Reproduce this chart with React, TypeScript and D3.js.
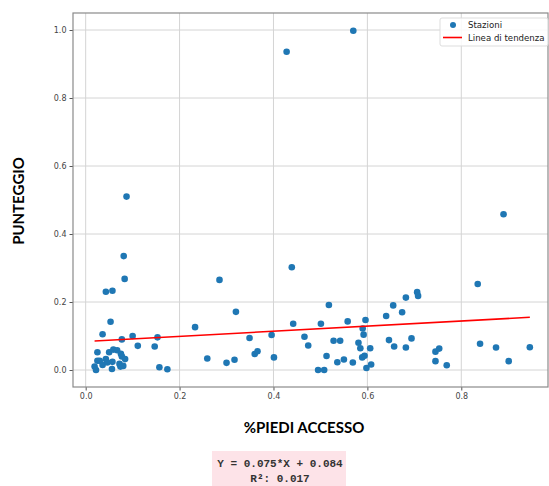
import React from 'react'
import * as d3 from 'd3'
import { useEffect, useRef } from 'react'

// %piedi accesso (x) and punteggio (y) per stazione
const piediAccesso = [
  0.087, 0.081, 0.083, 0.043, 0.057, 0.053, 0.036, 0.100, 0.077, 0.111,
  0.153, 0.147, 0.157, 0.174, 0.019, 0.022, 0.025, 0.025, 0.030, 0.036,
  0.043, 0.046, 0.050, 0.056, 0.057, 0.059, 0.067, 0.072, 0.075, 0.077,
  0.074, 0.080, 0.084, 0.233, 0.285, 0.259, 0.300, 0.317, 0.320, 0.349,
  0.360, 0.366, 0.396, 0.401, 0.428, 0.439, 0.442, 0.466, 0.474, 0.495,
  0.501, 0.508, 0.513, 0.518, 0.528, 0.536, 0.542, 0.550, 0.558, 0.569,
  0.570, 0.581, 0.585, 0.589, 0.590, 0.592, 0.594, 0.596, 0.598, 0.606,
  0.608, 0.640, 0.646, 0.655, 0.657, 0.674, 0.682, 0.682, 0.694, 0.706,
  0.708, 0.745, 0.745, 0.753, 0.769, 0.835, 0.840, 0.874, 0.890, 0.901,
  0.946
]
const punteggio = [
  0.510, 0.335, 0.268, 0.230, 0.233, 0.142, 0.105, 0.100, 0.090, 0.071,
  0.096, 0.069, 0.008, 0.002, 0.010, 0.000, 0.027, 0.052, 0.027, 0.015,
  0.032, 0.022, 0.052, 0.003, 0.024, 0.060, 0.058, 0.018, 0.048, 0.040,
  0.010, 0.012, 0.032, 0.126, 0.265, 0.034, 0.021, 0.030, 0.171, 0.094,
  0.047, 0.055, 0.103, 0.037, 0.936, 0.302, 0.136, 0.098, 0.072, 0.000,
  0.136, 0.000, 0.041, 0.191, 0.086, 0.023, 0.086, 0.031, 0.143, 0.022,
  0.998, 0.080, 0.064, 0.037, 0.122, 0.104, 0.042, 0.147, 0.006, 0.064,
  0.016, 0.159, 0.088, 0.190, 0.069, 0.170, 0.213, 0.066, 0.093, 0.229,
  0.218, 0.054, 0.026, 0.063, 0.014, 0.253, 0.077, 0.066, 0.458, 0.026,
  0.067
]

const xTicks = [0.0, 0.2, 0.4, 0.6, 0.8]
const yTicks = [0.0, 0.2, 0.4, 0.6, 0.8, 1.0]

// linea di tendenza
const slope = 0.075
const intercept = 0.084
const r2 = 0.017

const legendLabels = ['Stazioni', 'Linea di tendenza']

function ScatterTrend() {
  const ref = useRef<SVGSVGElement>(null)

  useEffect(() => {
    const width = 549
    const height = 486
    const plot = { left: 73, right: 548, top: 13, bottom: 387 }

    const svg = d3.select(ref.current)
    svg.selectAll('*').remove()

    const x = d3.scaleLinear().domain([-0.027, 0.9847]).range([plot.left, plot.right])
    const y = d3.scaleLinear().domain([-0.05, 1.05]).range([plot.bottom, plot.top])

    const g = svg.append('g')

    // grid
    g.append('g')
      .selectAll('line')
      .data(xTicks)
      .join('line')
      .attr('x1', d => x(d)).attr('x2', d => x(d))
      .attr('y1', plot.top).attr('y2', plot.bottom)
      .attr('stroke', '#d4d4d4').attr('stroke-width', 1)
    g.append('g')
      .selectAll('line')
      .data(yTicks)
      .join('line')
      .attr('x1', plot.left).attr('x2', plot.right)
      .attr('y1', d => y(d)).attr('y2', d => y(d))
      .attr('stroke', '#d4d4d4').attr('stroke-width', 1)

    // axes
    const fmt = d3.format('.1f')
    const xAxis = g.append('g')
      .attr('transform', `translate(0,${plot.bottom})`)
      .call(d3.axisBottom(x).tickValues(xTicks).tickFormat(d => fmt(+d)).tickSize(3.5).tickPadding(3))
    const yAxis = g.append('g')
      .attr('transform', `translate(${plot.left},0)`)
      .call(d3.axisLeft(y).tickValues(yTicks).tickFormat(d => fmt(+d)).tickSize(3.5).tickPadding(3))
    for (const ax of [xAxis, yAxis]) {
      ax.select('.domain').remove()
      ax.selectAll('line').attr('stroke', '#555')
      ax.selectAll('text')
        .attr('fill', '#444')
        .style('font-family', 'DejaVu Sans')
        .style('font-size', '8px')
    }

    // frame
    g.append('rect')
      .attr('x', plot.left).attr('y', plot.top)
      .attr('width', plot.right - plot.left).attr('height', plot.bottom - plot.top)
      .attr('fill', 'none').attr('stroke', '#8a8a8a').attr('stroke-width', 1.2)

    // points
    const points = piediAccesso.map((v, i) => ({ x: v, y: punteggio[i] }))
    g.append('g')
      .selectAll('circle')
      .data(points)
      .join('circle')
      .attr('cx', d => x(d.x))
      .attr('cy', d => y(d.y))
      .attr('r', 3.3)
      .attr('fill', '#1f77b4')

    // trend line
    const xExt = d3.extent(piediAccesso) as [number, number]
    const line = d3.line<number>()
      .x(d => x(d))
      .y(d => y(slope * d + intercept))
    g.append('path')
      .datum(xExt)
      .attr('d', line)
      .attr('fill', 'none')
      .attr('stroke', '#ff0000')
      .attr('stroke-width', 1.6)

    // legend
    const lg = g.append('g').attr('transform', 'translate(440,18)')
    lg.append('rect')
      .attr('width', 108).attr('height', 28).attr('rx', 2)
      .attr('fill', 'white').attr('fill-opacity', 0.85)
      .attr('stroke', '#ddd')
    lg.append('circle').attr('cx', 13).attr('cy', 7).attr('r', 3).attr('fill', '#1f77b4')
    lg.append('line')
      .attr('x1', 3).attr('x2', 22).attr('y1', 19.5).attr('y2', 19.5)
      .attr('stroke', '#ff0000').attr('stroke-width', 1.6)
    lg.selectAll('text')
      .data(legendLabels)
      .join('text')
      .attr('x', 28)
      .attr('y', (d, i) => 10 + i * 12.5)
      .text(d => d)
      .style('font-family', 'DejaVu Sans')
      .style('font-size', '8.6px')
      .attr('fill', '#222')

    // axis titles
    svg.append('text')
      .attr('transform', `translate(24,201) rotate(-90)`)
      .attr('text-anchor', 'middle')
      .style('font-family', 'Lato')
      .style('font-weight', 'bold')
      .style('font-size', '15px')
      .text('PUNTEGGIO')
    svg.append('text')
      .attr('x', 304).attr('y', 433)
      .attr('text-anchor', 'middle')
      .style('font-family', 'Lato')
      .style('font-weight', 'bold')
      .style('font-size', '15px')
      .text('%PIEDI ACCESSO')

    // equation box
    const eq = svg.append('g')
    eq.append('rect')
      .attr('x', 212).attr('y', 451).attr('width', 134).attr('height', height - 451)
      .attr('fill', '#fde3e8')
    eq.selectAll('text')
      .data([`Y = ${slope.toFixed(3)}*X + ${intercept.toFixed(3)}`, `R²: ${r2.toFixed(3)}`])
      .join('text')
      .attr('x', 280)
      .attr('y', (d, i) => 467 + i * 15)
      .attr('text-anchor', 'middle')
      .style('font-family', 'Liberation Mono')
      .style('font-size', '11px')
      .style('font-weight', 'bold')
      .attr('fill', '#333')
      .text(d => d)

    svg.attr('width', width).attr('height', height)
  }, [])

  return <svg ref={ref} width={549} height={486} style={{ position: 'absolute', left: 0, top: 0, background: 'white' }} />
}

export default function App() {
  return <ScatterTrend />
}
